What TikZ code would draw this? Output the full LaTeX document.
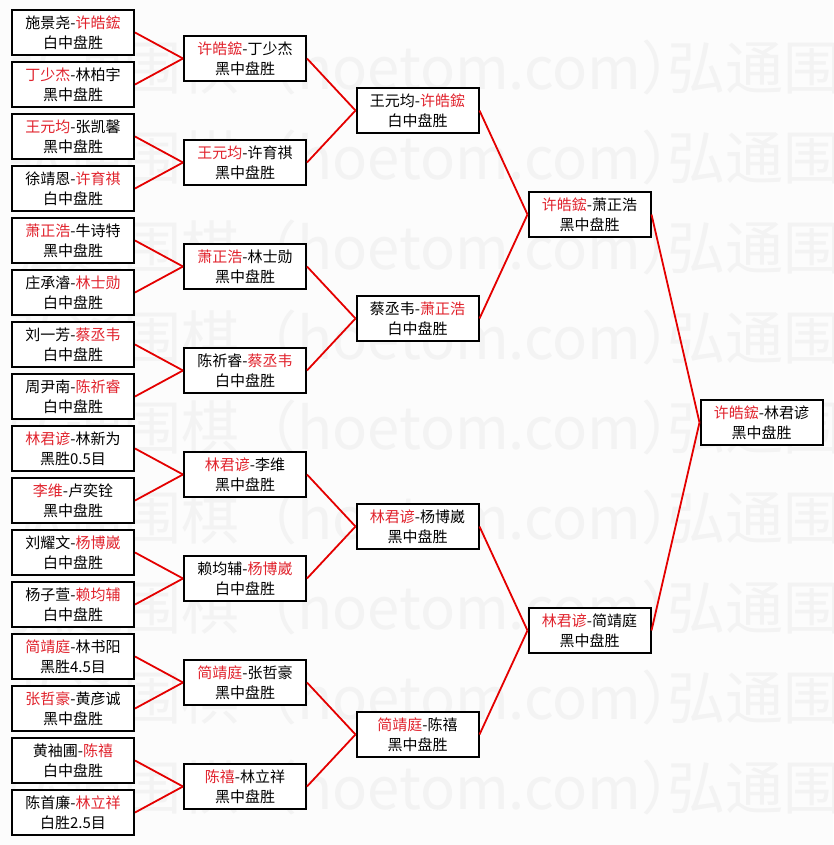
\documentclass[tikz,border=0pt]{standalone}
\usepackage{fontspec}
\setmainfont{Noto Sans CJK SC}
\definecolor{lred}{RGB}{228,0,0}
\definecolor{tred}{RGB}{225,35,45}
\definecolor{wm}{RGB}{243,243,243}
\definecolor{bg}{RGB}{252,252,252}
\newcommand{\rn}[1]{\textcolor{tred}{#1}}
\begin{document}
\begin{tikzpicture}[x=1pt,y=-1pt,
  game/.style={draw=black, line width=2pt, fill=white, minimum width=122pt, minimum height=45pt, inner sep=0pt, align=center, font=\fontsize{15}{20}\selectfont},
  link/.style={draw=lred, line width=1.8pt},
  wmark/.style={text=wm, anchor=west, inner sep=0pt, font=\fontsize{58}{58}\selectfont}]
\useasboundingbox (0,0) rectangle (833,845);
\fill[bg] (0,0) rectangle (833,845);
\begin{scope}
\clip (0,0) rectangle (833,845);
\foreach \k in {0,...,8} \foreach \m in {-1,0,1} \node[wmark] (w\k\m) at (7+660*\m, 67.5+90*\k) {弘通围棋（hoetom.com）};
\end{scope}
% round 1
\node[game] (a1)  at (73, 32.5) {施景尧-\rn{许皓鋐}\\白中盘胜};
\node[game] (a2)  at (73, 84.5) {\rn{丁少杰}-林柏宇\\黑中盘胜};
\node[game] (a3)  at (73,136.5) {\rn{王元均}-张凯馨\\黑中盘胜};
\node[game] (a4)  at (73,188.5) {徐靖恩-\rn{许育祺}\\白中盘胜};
\node[game] (a5)  at (73,240.5) {\rn{萧正浩}-牛诗特\\黑中盘胜};
\node[game] (a6)  at (73,292.5) {庄承濬-\rn{林士勋}\\白中盘胜};
\node[game] (a7)  at (73,344.5) {刘一芳-\rn{蔡丞韦}\\白中盘胜};
\node[game] (a8)  at (73,396.5) {周尹南-\rn{陈祈睿}\\白中盘胜};
\node[game] (a9)  at (73,448.5) {\rn{林君谚}-林新为\\黑胜0.5目};
\node[game] (a10) at (73,500.5) {\rn{李维}-卢奕铨\\黑中盘胜};
\node[game] (a11) at (73,552.5) {刘耀文-\rn{杨博崴}\\白中盘胜};
\node[game] (a12) at (73,604.5) {杨子萱-\rn{赖均辅}\\白中盘胜};
\node[game] (a13) at (73,656.5) {\rn{简靖庭}-林书阳\\黑胜4.5目};
\node[game] (a14) at (73,708.5) {\rn{张哲豪}-黄彦诚\\黑中盘胜};
\node[game] (a15) at (73,760.5) {黄袖圃-\rn{陈禧}\\白中盘胜};
\node[game] (a16) at (73,812.5) {陈首廉-\rn{林立祥}\\白胜2.5目};
% round 2
\node[game] (b1) at (245, 58.5) {\rn{许皓鋐}-丁少杰\\黑中盘胜};
\node[game] (b2) at (245,162.5) {\rn{王元均}-许育祺\\黑中盘胜};
\node[game] (b3) at (245,266.5) {\rn{萧正浩}-林士勋\\黑中盘胜};
\node[game] (b4) at (245,370.5) {陈祈睿-\rn{蔡丞韦}\\白中盘胜};
\node[game] (b5) at (245,474.5) {\rn{林君谚}-李维\\黑中盘胜};
\node[game] (b6) at (245,578.5) {赖均辅-\rn{杨博崴}\\白中盘胜};
\node[game] (b7) at (245,682.5) {\rn{简靖庭}-张哲豪\\黑中盘胜};
\node[game] (b8) at (245,786.5) {\rn{陈禧}-林立祥\\黑中盘胜};
% round 3
\node[game] (c1) at (417.5,110.5) {王元均-\rn{许皓鋐}\\白中盘胜};
\node[game] (c2) at (417.5,318.5) {蔡丞韦-\rn{萧正浩}\\白中盘胜};
\node[game] (c3) at (417.5,526.5) {\rn{林君谚}-杨博崴\\黑中盘胜};
\node[game] (c4) at (417.5,734.5) {\rn{简靖庭}-陈禧\\黑中盘胜};
% round 4
\node[game] (d1) at (589.5,214.5) {\rn{许皓鋐}-萧正浩\\黑中盘胜};
\node[game] (d2) at (589.5,630.5) {\rn{林君谚}-简靖庭\\黑中盘胜};
% final
\node[game] (e1) at (761.5,422.5) {\rn{许皓鋐}-林君谚\\黑中盘胜};
% connectors
\foreach \i in {1,...,8} {
  \pgfmathtruncatemacro\ja{2*\i-1}
  \pgfmathtruncatemacro\jb{2*\i}
  \draw[link] (a\ja.east) -- (b\i.west);
  \draw[link] (a\jb.east) -- (b\i.west);
}
\foreach \i in {1,...,4} {
  \pgfmathtruncatemacro\ja{2*\i-1}
  \pgfmathtruncatemacro\jb{2*\i}
  \draw[link] (b\ja.east) -- (c\i.west);
  \draw[link] (b\jb.east) -- (c\i.west);
}
\draw[link] (c1.east) -- (d1.west);
\draw[link] (c2.east) -- (d1.west);
\draw[link] (c3.east) -- (d2.west);
\draw[link] (c4.east) -- (d2.west);
\draw[link] (d1.east) -- (e1.west);
\draw[link] (d2.east) -- (e1.west);
\end{tikzpicture}
\end{document}
